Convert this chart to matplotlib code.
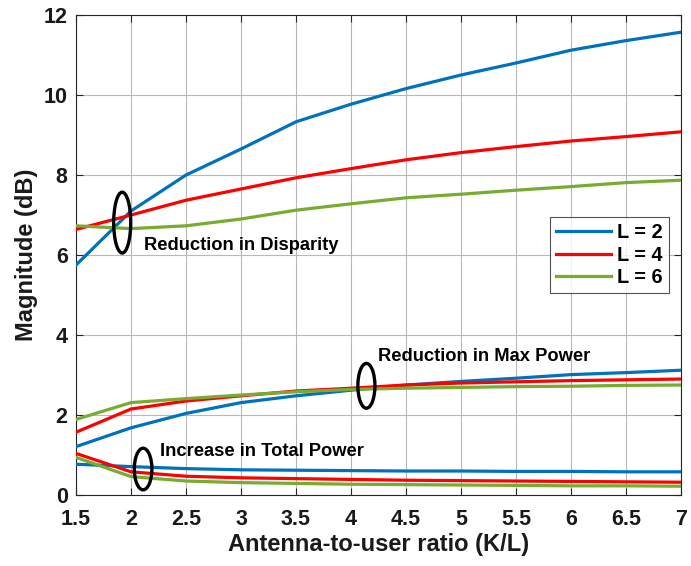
import matplotlib
matplotlib.use("Agg")
import matplotlib.pyplot as plt
from matplotlib.patches import Ellipse

plt.rcParams['font.family'] = ['Liberation Sans', 'DejaVu Sans']
plt.rcParams['font.weight'] = 'bold'

x = [1.5, 2, 2.5, 3, 3.5, 4, 4.5, 5, 5.5, 6, 6.5, 7]
labels = ['L = 2', 'L = 4', 'L = 6']
colors = ['#0072BD', '#FF0000', '#77AC30']

# Reduction in disparity
disp_L2 = [5.75, 7.10, 8.00, 8.65, 9.33, 9.77, 10.16, 10.50, 10.80, 11.12, 11.36, 11.57]
disp_L4 = [6.64, 7.00, 7.37, 7.65, 7.93, 8.16, 8.38, 8.56, 8.71, 8.85, 8.96, 9.08]
disp_L6 = [6.73, 6.66, 6.73, 6.90, 7.12, 7.28, 7.43, 7.52, 7.62, 7.71, 7.81, 7.87]
# Reduction in max power
maxp_L2 = [1.21, 1.68, 2.04, 2.31, 2.48, 2.62, 2.75, 2.84, 2.92, 3.01, 3.06, 3.12]
maxp_L4 = [1.57, 2.15, 2.35, 2.48, 2.60, 2.67, 2.75, 2.80, 2.83, 2.86, 2.88, 2.90]
maxp_L6 = [1.89, 2.31, 2.41, 2.50, 2.58, 2.64, 2.67, 2.69, 2.71, 2.72, 2.74, 2.75]
# Increase in total power
totp_L2 = [0.77, 0.71, 0.66, 0.63, 0.62, 0.61, 0.60, 0.60, 0.59, 0.59, 0.58, 0.58]
totp_L4 = [1.04, 0.58, 0.47, 0.43, 0.41, 0.39, 0.37, 0.36, 0.35, 0.34, 0.33, 0.32]
totp_L6 = [0.94, 0.46, 0.35, 0.31, 0.29, 0.27, 0.26, 0.25, 0.24, 0.23, 0.23, 0.22]

xticks = [1.5, 2, 2.5, 3, 3.5, 4, 4.5, 5, 5.5, 6, 6.5, 7]
xticklabels = ['1.5', '2', '2.5', '3', '3.5', '4', '4.5', '5', '5.5', '6', '6.5', '7']
yticks = [0, 2, 4, 6, 8, 10, 12]

fig = plt.figure(figsize=(6.91, 5.66), dpi=100)
ax = fig.add_axes([0.110, 0.1254, 0.8755, 0.8481])

groups = [(disp_L2, disp_L4, disp_L6), (maxp_L2, maxp_L4, maxp_L6), (totp_L2, totp_L4, totp_L6)]
for gi, g in enumerate(groups):
    for s, c, lab in zip(g, colors, labels):
        ax.plot(x, s, color=c, lw=2.3, label=lab if gi == 0 else None, zorder=3)

# annotation ellipses
for (cx, cy, w, h) in [(1.92, 6.81, 0.155, 1.52), (4.14, 2.73, 0.155, 1.12), (2.11, 0.65, 0.16, 1.04)]:
    ax.add_patch(Ellipse((cx, cy), w, h, fill=False, ec='black', lw=2.4, zorder=4))

ax.text(2.12, 6.25, 'Reduction in Disparity', fontsize=13.2, fontweight='bold', va='center', ha='left')
ax.text(4.25, 3.46, 'Reduction in Max Power', fontsize=13.2, fontweight='bold', va='center', ha='left')
ax.text(2.26, 1.08, 'Increase in Total Power', fontsize=13.2, fontweight='bold', va='center', ha='left')

ax.set_xlim(1.5, 7)
ax.set_ylim(0, 12)
ax.set_xticks(xticks)
ax.set_xticklabels(xticklabels)
ax.set_yticks(yticks)
ax.tick_params(direction='in', top=True, right=True, length=5, width=0.8, colors='#262626',
               labelsize=15.5)
ax.tick_params(axis='x', pad=10)
ax.tick_params(axis='y', pad=6)
for lab in ax.get_xticklabels() + ax.get_yticklabels():
    lab.set_fontweight('bold')
    lab.set_color('#1a1a1a')
for sp in ax.spines.values():
    sp.set_color('#262626')
    sp.set_linewidth(0.8)
ax.grid(True, color='#b8b8b8', lw=0.8, zorder=0)
ax.set_axisbelow(True)

ax.set_xlabel('Antenna-to-user ratio (K/L)', fontsize=17, fontweight='bold', labelpad=2,
              color='#1a1a1a')
ax.set_ylabel('Magnitude (dB)', fontsize=17, fontweight='bold', labelpad=4, color='#1a1a1a')

leg = ax.legend(loc='upper left', bbox_to_anchor=(0.783, 0.579), fontsize=14.3, frameon=True,
                fancybox=False, edgecolor='#262626', handlelength=2.8, handletextpad=0.3,
                borderpad=0.3, labelspacing=0.18, borderaxespad=0)
leg.get_frame().set_linewidth(0.8)
for t in leg.get_texts():
    t.set_fontweight('bold')

fig.savefig('out.png', dpi=100)
